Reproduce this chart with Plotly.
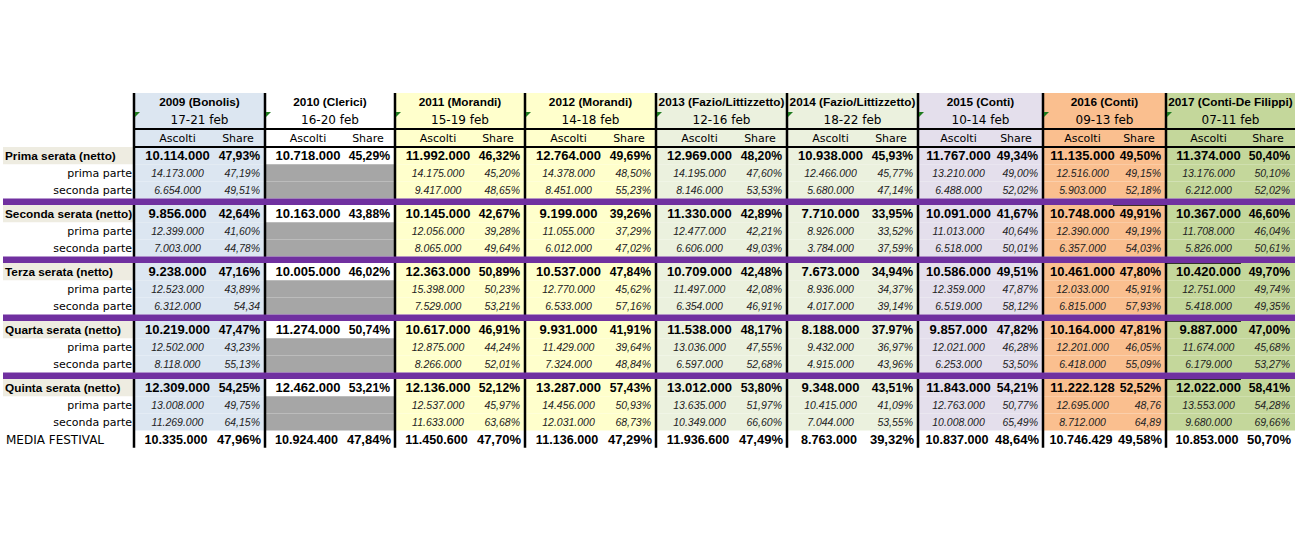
import plotly.graph_objects as go

# --- data -------------------------------------------------------------
years = ["2009 (Bonolis)", "2010 (Clerici)", "2011 (Morandi)", "2012 (Morandi)",
         "2013 (Fazio/Littizzetto)", "2014 (Fazio/Littizzetto)", "2015 (Conti)",
         "2016 (Conti)", "2017 (Conti-De Filippi)"]
dates = ["17-21 feb", "16-20 feb", "15-19 feb", "14-18 feb", "12-16 feb",
         "18-22 feb", "10-14 feb", "09-13 feb", "07-11 feb"]
fills = ["#dce6f1", "#ffffff", "#ffffcc", "#ffffcc", "#ebf1de", "#ebf1de",
         "#e4dfec", "#fabf8f", "#c4d79b"]

serate = ["Prima serata (netto)", "Seconda serata (netto)", "Terza serata (netto)",
          "Quarta serata (netto)", "Quinta serata (netto)"]
parti = ["prima parte", "seconda parte"]

# each serata: [ascolti netto, share netto, ascolti 1a parte, share 1a parte, ascolti 2a parte, share 2a parte]
prima = [
    ["10.114.000", "10.718.000", "11.992.000", "12.764.000", "12.969.000", "10.938.000", "11.767.000", "11.135.000", "11.374.000"],
    ["47,93%", "45,29%", "46,32%", "49,69%", "48,20%", "45,93%", "49,34%", "49,50%", "50,40%"],
    ["14.173.000", None, "14.175.000", "14.378.000", "14.195.000", "12.466.000", "13.210.000", "12.516.000", "13.176.000"],
    ["47,19%", None, "45,20%", "48,50%", "47,60%", "45,77%", "49,00%", "49,15%", "50,10%"],
    ["6.654.000", None, "9.417.000", "8.451.000", "8.146.000", "5.680.000", "6.488.000", "5.903.000", "6.212.000"],
    ["49,51%", None, "48,65%", "55,23%", "53,53%", "47,14%", "52,02%", "52,18%", "52,02%"],
]
seconda = [
    ["9.856.000", "10.163.000", "10.145.000", "9.199.000", "11.330.000", "7.710.000", "10.091.000", "10.748.000", "10.367.000"],
    ["42,64%", "43,88%", "42,67%", "39,26%", "42,89%", "33,95%", "41,67%", "49,91%", "46,60%"],
    ["12.399.000", None, "12.056.000", "11.055.000", "12.477.000", "8.926.000", "11.013.000", "12.390.000", "11.708.000"],
    ["41,60%", None, "39,28%", "37,29%", "42,21%", "33,52%", "40,64%", "49,19%", "46,04%"],
    ["7.003.000", None, "8.065.000", "6.012.000", "6.606.000", "3.784.000", "6.518.000", "6.357.000", "5.826.000"],
    ["44,78%", None, "49,64%", "47,02%", "49,03%", "37,59%", "50,01%", "54,03%", "50,61%"],
]
terza = [
    ["9.238.000", "10.005.000", "12.363.000", "10.537.000", "10.709.000", "7.673.000", "10.586.000", "10.461.000", "10.420.000"],
    ["47,16%", "46,02%", "50,89%", "47,84%", "42,48%", "34,94%", "49,51%", "47,80%", "49,70%"],
    ["12.523.000", None, "15.398.000", "12.770.000", "11.497.000", "8.936.000", "12.359.000", "12.033.000", "12.751.000"],
    ["43,89%", None, "50,23%", "45,62%", "42,08%", "34,37%", "47,87%", "45,91%", "49,74%"],
    ["6.312.000", None, "7.529.000", "6.533.000", "6.354.000", "4.017.000", "6.519.000", "6.815.000", "5.418.000"],
    ["54,34", None, "53,21%", "57,16%", "46,91%", "39,14%", "58,12%", "57,93%", "49,35%"],
]
quarta = [
    ["10.219.000", "11.274.000", "10.617.000", "9.931.000", "11.538.000", "8.188.000", "9.857.000", "10.164.000", "9.887.000"],
    ["47,47%", "50,74%", "46,91%", "41,91%", "48,17%", "37.97%", "47,82%", "47,81%", "47,00%"],
    ["12.502.000", None, "12.875.000", "11.429.000", "13.036.000", "9.432.000", "12.021.000", "12.201.000", "11.674.000"],
    ["43,23%", None, "44,24%", "39,64%", "47,55%", "36,97%", "46,28%", "46,05%", "45,68%"],
    ["8.118.000", None, "8.266.000", "7.324.000", "6.597.000", "4.915.000", "6.253.000", "6.418.000", "6.179.000"],
    ["55,13%", None, "52,01%", "48,84%", "52,68%", "43,96%", "53,50%", "55,09%", "53,27%"],
]
quinta = [
    ["12.309.000", "12.462.000", "12.136.000", "13.287.000", "13.012.000", "9.348.000", "11.843.000", "11.222.128", "12.022.000"],
    ["54,25%", "53,21%", "52,12%", "57,43%", "53,80%", "43,51%", "54,21%", "52,52%", "58,41%"],
    ["13.008.000", None, "12.537.000", "14.456.000", "13.635.000", "10.415.000", "12.763.000", "12.695.000", "13.553.000"],
    ["49,75%", None, "45,97%", "50,93%", "51,97%", "41,09%", "50,77%", "48,76", "54,28%"],
    ["11.269.000", None, "11.633.000", "12.031.000", "10.349.000", "7.044.000", "10.008.000", "8.712.000", "9.680.000"],
    ["64,15%", None, "63,68%", "68,73%", "66,60%", "53,55%", "65,49%", "64,89", "69,66%"],
]
media_label = "MEDIA FESTIVAL"
media_asc = ["10.335.000", "10.924.400", "11.450.600", "11.136.000", "11.936.600", "8.763.000", "10.837.000", "10.746.429", "10.853.000"]
media_sh = ["47,96%", "47,84%", "47,70%", "47,29%", "47,49%", "39,32%", "48,64%", "49,58%", "50,70%"]

blocks = [prima, seconda, terza, quarta, quinta]

# --- layout (pixel grid of the sheet) ---------------------------------
edges = [134, 265, 395, 525, 656, 787, 918, 1043, 1166, 1295]
LABEL_X = 3
TOP = 93
HEAD_H = 18
ROW_H = 17.2
BAND = 6.4
BLOCK_H = 3 * ROW_H + BAND
DATA_TOP = TOP + 3 * HEAD_H
TXT_DY = 1.2  # plotly sits text a bit high, nudge it down
PURPLE = "#7030a0"
BEIGE = "#eeece1"
GRAY = "#a6a6a6"

BOLD = "Liberation Sans, Arial, sans-serif"
REG = "DejaVu Sans, Verdana, sans-serif"
ITAL = "Liberation Sans, Arial, sans-serif"

fig = go.Figure()
shapes = []


def rect(x0, y0, x1, y1, color):
    shapes.append(dict(type="rect", xref="x", yref="y", x0=x0, x1=x1, y0=y0, y1=y1,
                       fillcolor=color, line=dict(width=0), layer="below"))


def hline(y, x0, x1, color="black", w=2):
    shapes.append(dict(type="line", xref="x", yref="y", x0=x0, x1=x1, y0=y, y1=y,
                       line=dict(color=color, width=w)))


def row_top(b, r):
    return DATA_TOP + b * BLOCK_H + r * ROW_H


media_top = DATA_TOP + 5 * BLOCK_H - BAND

# backgrounds
for i in range(len(years)):
    x0, x1 = edges[i], edges[i + 1]
    rect(x0, TOP, x1, DATA_TOP, fills[i])
    for b in range(len(blocks)):
        for r in range(3):
            c = fills[i]
            if blocks[b][2 * r][i] is None:
                c = GRAY
            rect(x0, row_top(b, r), x1, row_top(b, r) + ROW_H, c)
for b in range(len(blocks)):
    rect(LABEL_X, row_top(b, 0), edges[0], row_top(b, 0) + ROW_H, BEIGE)

# vertical borders
for x in edges[:-1]:
    shapes.append(dict(type="line", xref="x", yref="y", x0=x, x1=x, y0=TOP,
                       y1=media_top + ROW_H, line=dict(color="black", width=2.5)))
hline(TOP + 2 * HEAD_H, edges[0], edges[-1])
hline(TOP + 3 * HEAD_H, edges[0], edges[-1])

# stray cell borders from the sheet
hline(row_top(1, 0), edges[7] + 70, edges[8], w=1.5)
for b in [2, 3, 4]:
    hline(row_top(b, 0), edges[8], edges[8] + 75, w=1.5)

# purple separators
for b in range(len(blocks) - 1):
    y0 = row_top(b, 3)
    shapes.append(dict(type="rect", xref="x", yref="y", x0=LABEL_X, x1=edges[-1],
                       y0=y0, y1=y0 + BAND, fillcolor=PURPLE, line=dict(width=0)))

# little green triangles on the date cells
for x in edges[:-1]:
    y = TOP + HEAD_H + 1
    shapes.append(dict(type="path", xref="x", yref="y",
                       path=f"M {x + 1},{y} L {x + 6},{y} L {x + 1},{y + 5} Z",
                       fillcolor="#1e7b1e", line=dict(width=0)))


def add_text(xs, ys, texts, size, family, pos="middle center", weight="normal",
             style="normal", color="#000000"):
    fig.add_trace(go.Scatter(x=xs, y=[y + TXT_DY for y in ys], text=texts, mode="text",
                             textposition=pos,
                             textfont=dict(family=family, size=size, weight=weight,
                                           style=style, color=color),
                             cliponaxis=False, hoverinfo="skip", showlegend=False))


n = len(years)
mid = [(edges[i] + edges[i + 1]) / 2 for i in range(n)]
asc_x = [edges[i] + (edges[i + 1] - edges[i] - 44) / 2 for i in range(n)]
sh_x = [edges[i + 1] - 5 for i in range(n)]

# header
add_text(mid, [TOP + HEAD_H / 2] * n, years, 11.8, BOLD, weight="bold")
add_text(mid, [TOP + 1.5 * HEAD_H] * n, dates, 12, REG)
add_text(asc_x, [TOP + 2.5 * HEAD_H] * n, ["Ascolti"] * n, 11, REG)
add_text([edges[i + 1] - 27 for i in range(n)], [TOP + 2.5 * HEAD_H] * n, ["Share"] * n, 11, REG)

# body
for b, blk in enumerate(blocks):
    for r in range(3):
        yc = row_top(b, r) + ROW_H / 2
        asc = blk[2 * r]
        sh = blk[2 * r + 1]
        xa = [asc_x[i] for i in range(n) if asc[i] is not None]
        xs = [sh_x[i] for i in range(n) if sh[i] is not None]
        ta = [v for v in asc if v is not None]
        ts = [v for v in sh if v is not None]
        if r == 0:
            add_text(xa, [yc] * len(xa), ta, 13, BOLD, weight="bold")
            add_text(xs, [yc] * len(xs), ts, 12.2, BOLD, pos="middle left", weight="bold")
            add_text([LABEL_X + 2], [yc], [serate[b]], 11.8, BOLD, pos="middle right", weight="bold")
        else:
            add_text(xa, [yc] * len(xa), ta, 10.5, ITAL, style="italic", color="#222222")
            add_text(xs, [yc] * len(xs), ts, 10.5, ITAL, pos="middle left", style="italic", color="#222222")
            add_text([edges[0] - 2], [yc], [parti[r - 1]], 11, REG, pos="middle left")

ym = media_top + ROW_H / 2 + 0.8
add_text([x - 1.5 for x in asc_x], [ym] * n, media_asc, 12.6, BOLD, weight="bold")
add_text([x + 1 for x in sh_x], [ym] * n, media_sh, 13, BOLD, pos="middle left", weight="bold")
add_text([LABEL_X + 3], [ym], [media_label], 12, REG, pos="middle right")

fig.update_layout(
    shapes=shapes,
    width=1298, height=534,
    margin=dict(l=0, r=0, t=0, b=0),
    paper_bgcolor="white", plot_bgcolor="white",
    xaxis=dict(range=[0, 1298], visible=False, fixedrange=True),
    yaxis=dict(range=[534, 0], visible=False, fixedrange=True),
)

# drop the default body margin so the sheet starts at the page corner
fig.write_html("out.html", config={"displayModeBar": False},
               post_script="document.body.style.margin='0';")
